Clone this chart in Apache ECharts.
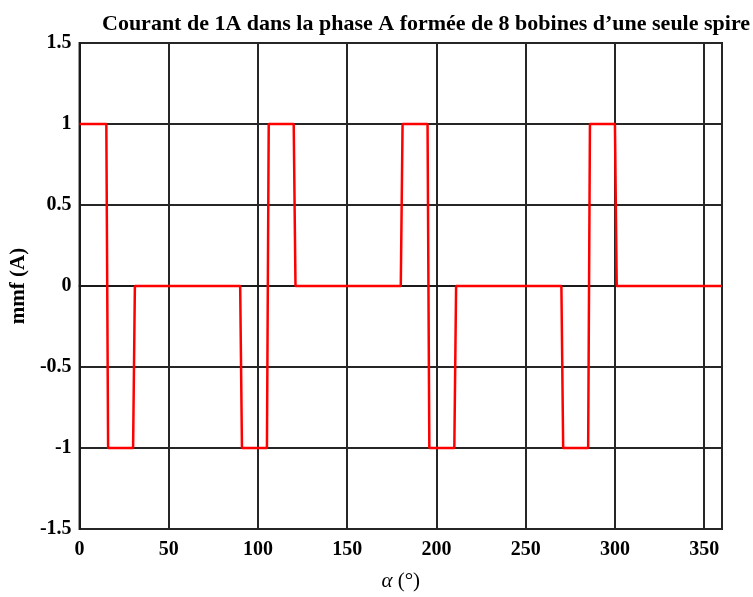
<!DOCTYPE html>
<html>
<head>
<meta charset="utf-8">
<title>mmf phase A</title>
<script src="https://cdn.jsdelivr.net/npm/echarts@6/dist/echarts.min.js"></script>
<style>
  html, body { margin: 0; padding: 0; background: #fff; }
  #chart { width: 753px; height: 597px; }
</style>
</head>
<body>
<div id="chart"></div>
<script>
// Electrical angle (degrees) at each breakpoint of the stepped mmf
const alpha = [0, 15, 16, 30, 31, 90, 91, 105, 106, 120, 121, 180, 181,
               195, 196, 210, 211, 270, 271, 285, 286, 300, 301, 360];
// mmf (A) at each breakpoint
const mmf = [1, 1, -1, -1, 0, 0, -1, -1, 1, 1, 0, 0, 1,
             1, -1, -1, 0, 0, -1, -1, 1, 1, 0, 0];

const titleText = 'Courant de 1A dans la phase A formée de 8 bobines d\u2019une seule spire';
const xName = '{i|\u03B1} (\u00B0)';
const yName = 'mmf (A)';

const serif = '"Liberation Serif", "DejaVu Serif", serif';
const gridColor = '#262626';

const chart = echarts.init(document.getElementById('chart'), null, { renderer: 'canvas' });

chart.setOption({
  backgroundColor: '#ffffff',
  animation: false,
  title: {
    text: titleText,
    left: 97,
    top: 8,
    textStyle: { fontFamily: serif, fontWeight: 'bold', fontSize: 22, color: '#000' }
  },
  grid: {
    left: 78, right: 31, top: 43, bottom: 60,
    show: true, borderColor: '#1a1a1a', borderWidth: 2, backgroundColor: '#fff'
  },
  xAxis: {
    type: 'value',
    min: 0, max: 360, interval: 50,
    name: xName,
    nameLocation: 'middle',
    nameGap: 42,
    nameTextStyle: {
      fontFamily: serif, fontSize: 21, color: '#000',
      rich: { i: { fontFamily: serif, fontStyle: 'italic', fontSize: 21, color: '#000' } }
    },
    axisLine: { show: true, lineStyle: { color: '#1a1a1a', width: 2 } },
    axisTick: { show: false },
    splitLine: { show: true, lineStyle: { color: gridColor, width: 2 } },
    axisLabel: {
      showMaxLabel: false,
      margin: 11,
      fontFamily: serif, fontWeight: 'bold', fontSize: 20, color: '#000'
    }
  },
  yAxis: {
    type: 'value',
    min: -1.5, max: 1.5, interval: 0.5,
    name: yName,
    nameLocation: 'middle',
    nameGap: 38,
    nameTextStyle: { fontFamily: serif, fontWeight: 'bold', fontSize: 21, color: '#000' },
    axisLine: { show: true, lineStyle: { color: '#1a1a1a', width: 2 } },
    axisTick: { show: false },
    splitLine: { show: true, lineStyle: { color: gridColor, width: 2 } },
    axisLabel: {
      margin: 8,
      fontFamily: serif, fontWeight: 'bold', fontSize: 20, color: '#000'
    }
  },
  series: [{
    type: 'line',
    data: alpha.map((a, i) => [a, mmf[i]]),
    showSymbol: false,
    symbol: 'none',
    lineStyle: { color: '#ff0000', width: 2.5 },
    clip: false
  }]
});
</script>
</body>
</html>
